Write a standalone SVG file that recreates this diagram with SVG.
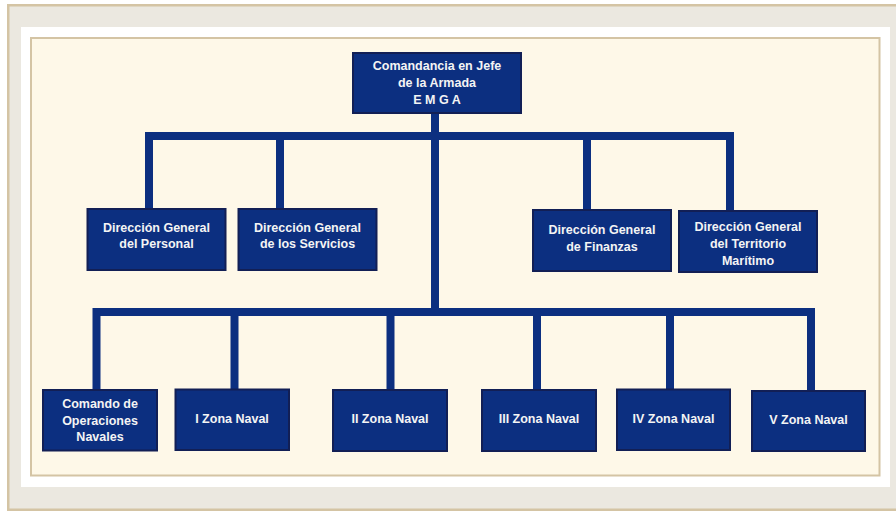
<svg xmlns="http://www.w3.org/2000/svg" width="896" height="511" viewBox="0 0 896 511">
<style>
.box{fill:#0c2f80;stroke:#121f55;stroke-width:2}
.edge{fill:none;stroke:#0c2f80;stroke-width:8;stroke-linejoin:miter;stroke-linecap:butt}
.t{font-family:"Liberation Sans",Arial,sans-serif;font-weight:bold;font-size:12.5px;fill:#f4f4f4;text-anchor:middle}
</style>
<rect x="0" y="0" width="896" height="511" fill="#ffffff"/>
<rect x="7" y="4" width="889" height="507" fill="#ebe8e0"/>
<rect x="7" y="4" width="889" height="2.5" fill="#d4c4a4"/>
<rect x="7" y="4" width="2.5" height="507" fill="#d4c4a4"/>
<rect x="7" y="508.5" width="889" height="2.5" fill="#d4c4a4"/>
<rect x="21" y="27" width="869" height="460" fill="#ffffff"/>
<rect x="31" y="38" width="848.5" height="437.5" fill="#fef8e8" stroke="#d4c4a4" stroke-width="2"/>

<g id="connectors">
<path class="edge" d="M435,113 V312"/>
<path class="edge" d="M149,209 V136 H730 V211"/>
<path class="edge" d="M280,136 V209"/>
<path class="edge" d="M587,136 V210"/>
<path class="edge" d="M96.5,390 V312 H811 V391"/>
<path class="edge" d="M234.5,312 V389"/>
<path class="edge" d="M390.5,312 V390"/>
<path class="edge" d="M537,312 V390"/>
<path class="edge" d="M670,312 V389"/>
</g>

<g id="n-emga">
<rect class="box" x="353" y="53" width="168" height="60"/>
<text class="t" x="437" y="69.5">Comandancia en Jefe</text>
<text class="t" x="437" y="86.5">de la Armada</text>
<text class="t" x="437" y="103.5">E M G A</text>
</g>

<g id="n-personal">
<rect class="box" x="87.5" y="209" width="138" height="61"/>
<text class="t" x="156.5" y="231.5">Dirección General</text>
<text class="t" x="156.5" y="248">del Personal</text>
</g>

<g id="n-servicios">
<rect class="box" x="238.5" y="209" width="138" height="61"/>
<text class="t" x="307.5" y="231.5">Dirección General</text>
<text class="t" x="307.5" y="248">de los Servicios</text>
</g>

<g id="n-finanzas">
<rect class="box" x="533" y="210" width="138" height="61"/>
<text class="t" x="602" y="233.5">Dirección General</text>
<text class="t" x="602" y="250.5">de Finanzas</text>
</g>

<g id="n-territorio">
<rect class="box" x="679" y="211" width="138" height="61"/>
<text class="t" x="748" y="231">Dirección General</text>
<text class="t" x="748" y="248">del Territorio</text>
<text class="t" x="748" y="265">Marítimo</text>
</g>

<g id="n-comando">
<rect class="box" x="43" y="390" width="114" height="60.5"/>
<text class="t" x="100" y="407.5">Comando de</text>
<text class="t" x="100" y="424.5">Operaciones</text>
<text class="t" x="100" y="441">Navales</text>
</g>

<g id="n-zona1">
<rect class="box" x="175.5" y="389.5" width="113.5" height="60.5"/>
<text class="t" x="232" y="422.5">I Zona Naval</text>
</g>

<g id="n-zona2">
<rect class="box" x="333" y="390" width="114" height="61"/>
<text class="t" x="390" y="423">II Zona Naval</text>
</g>

<g id="n-zona3">
<rect class="box" x="482" y="390" width="114" height="61"/>
<text class="t" x="539" y="423">III Zona Naval</text>
</g>

<g id="n-zona4">
<rect class="box" x="617" y="389.5" width="113" height="60.5"/>
<text class="t" x="673.5" y="422.5">IV Zona Naval</text>
</g>

<g id="n-zona5">
<rect class="box" x="752" y="391" width="113" height="60"/>
<text class="t" x="808.5" y="424">V Zona Naval</text>
</g>
</svg>
